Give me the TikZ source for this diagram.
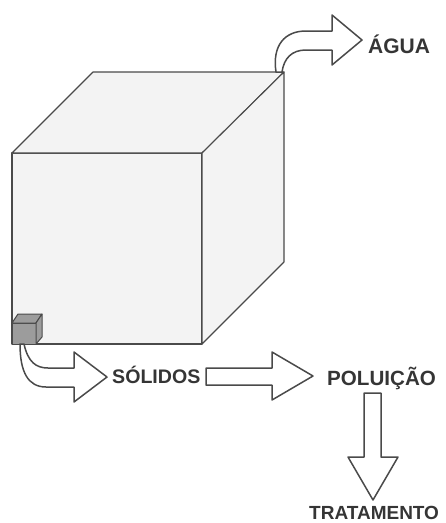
\documentclass[tikz,border=0pt]{standalone}
\usepackage{fontspec}
\setmainfont{Liberation Sans}
\definecolor{linegray}{HTML}{4A4A4A}
\definecolor{txtgray}{HTML}{353535}
\definecolor{facegray}{HTML}{F3F3F3}
\definecolor{smallgray}{HTML}{9C9C9C}
\begin{document}
\begin{tikzpicture}[x=1pt,y=-1pt,line join=round]
\tikzset{
  edge/.style={draw=linegray,line width=1.1pt},
  face/.style={edge,fill=facegray},
  smallface/.style={draw=linegray,line width=1pt,fill=smallgray},
  hollow/.style={draw=linegray,line width=1.5pt,fill=white},
  lbl/.style={text=txtgray,inner sep=0pt,anchor=base west}
}
\useasboundingbox (0,0) rectangle (446,523);
% big cube
\draw[face] (12,153) -- (202,153) -- (202,344) -- (12,344) -- cycle;
\draw[face] (12,153) -- (93,72) -- (284,72) -- (202,153) -- cycle;
\draw[face] (202,153) -- (284,72) -- (284,262) -- (202,344) -- cycle;
% small cube
\draw[smallface] (12,323) -- (36,323) -- (36,344) -- (12,344) -- cycle;
\draw[smallface] (12,323) -- (18,314) -- (42,314) -- (36,323) -- cycle;
\draw[smallface] (36,323) -- (42,314) -- (42,337) -- (36,344) -- cycle;
% labels
\node[lbl,font=\bfseries\fontsize{21}{24}\selectfont] (agua) at (368,53) {ÁGUA};
\node[lbl,font=\bfseries\fontsize{19.6}{24}\selectfont] (solidos) at (112,383) {SÓLIDOS};
\node[lbl,font=\bfseries\fontsize{20.6}{24}\selectfont] (poluicao) at (327,385) {POLUIÇÃO};
\node[lbl,font=\bfseries\fontsize{19}{24}\selectfont] (trat) at (309,519.5) {TRATAMENTO};
% top curved arrow (water)
\draw[hollow] (276,72) .. controls (272,45) and (285,31) .. (306,31) -- (332,31) -- (332,15) -- (362,40) -- (332,65) -- (332,50) -- (306,50) .. controls (292,50) and (284,58) .. (282,72) -- cycle;
% bottom curved arrow (solids)
\draw[hollow] (24,344) .. controls (28,362) and (36,368) .. (48,368) -- (74,368) -- (74,352) -- (107,377) -- (74,402) -- (74,387) -- (46,387) .. controls (28,387) and (20,372) .. (20,344) -- cycle;
% straight arrow
\draw[hollow] (206,368) -- (272,368) -- (272,352) -- (313,376) -- (272,400) -- (272,385) -- (206,385) -- cycle;
% down arrow
\draw[hollow] (364,393) -- (381,393) -- (381,457) -- (398,457) -- (373,500) -- (348,457) -- (364,457) -- cycle;
\end{tikzpicture}
\end{document}
